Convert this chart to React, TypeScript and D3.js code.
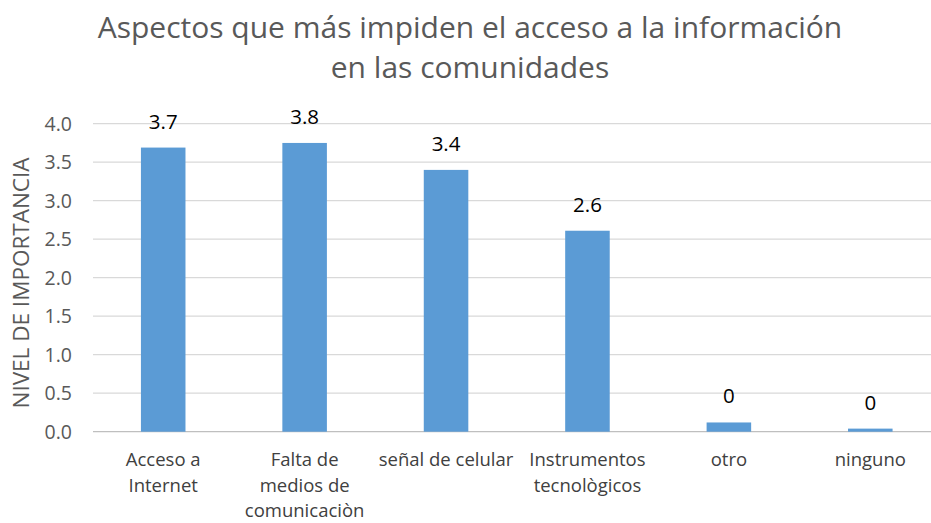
import React from "react";
import * as d3 from "d3";

const categories = [
  ["Acceso a", "Internet"],
  ["Falta de", "medios de", "comunicaciòn"],
  ["señal de celular"],
  ["Instrumentos", "tecnològicos"],
  ["otro"],
  ["ninguno"],
];
const values = [3.69, 3.75, 3.4, 2.61, 0.12, 0.04];
const valueLabels = ["3.7", "3.8", "3.4", "2.6", "0", "0"];
const yTicks = [0, 0.5, 1, 1.5, 2, 2.5, 3, 3.5, 4];
const titleLines = ["Aspectos que más impiden el acceso a la información", "en las comunidades"];
const yTitle = "NIVEL DE IMPORTANCIA";

const W = 931;
const H = 523;
const FONT = "'Open Sans', sans-serif";

export default function App() {
  const x = d3
    .scaleBand<number>()
    .domain(d3.range(values.length))
    .range([92.5, 941])
    .paddingInner(0.685)
    .paddingOuter(0.3425);
  const y = d3.scaleLinear().domain([0, 4]).range([431.7, 123.7]);
  return (
    <svg
      width={W}
      height={H}
      style={{ position: "absolute", left: 0, top: 0, background: "#fff" }}
      fontFamily={FONT}
    >
      {titleLines.map((t, i) => (
        <text key={i} x={470} y={38 + i * 40} textAnchor="middle" fontSize={30} fill="#595959">
          {t}
        </text>
      ))}
      <text
        transform={`translate(29,${283}) rotate(-90)`}
        textAnchor="middle"
        fontSize={22.5}
        fill="#595959"
      >
        {yTitle}
      </text>
      {yTicks.map((t) => (
        <g key={t}>
          <line x1={93} x2={W} y1={y(t)} y2={y(t)} stroke={t === 0 ? "#bfbfbf" : "#d9d9d9"} strokeWidth={1.2} />
          <text x={72} y={y(t)} dy="0.36em" textAnchor="end" fontSize={19.5} fill="#595959">
            {d3.format(".1f")(t)}
          </text>
        </g>
      ))}
      {values.map((v, i) => (
        <g key={i}>
          <rect x={x(i)} y={y(v)} width={x.bandwidth()} height={y(0) - y(v)} fill="#5b9bd5" />
          <text
            x={(x(i) as number) + x.bandwidth() / 2}
            y={y(v) - 19}
            textAnchor="middle"
            fontSize={20.5}
            fill="#000"
          >
            {valueLabels[i]}
          </text>
          {categories[i].map((l, j) => (
            <text
              key={j}
              x={(x(i) as number) + x.bandwidth() / 2}
              y={466 + j * 25.5}
              textAnchor="middle"
              fontSize={18.5}
              fill="#404040"
            >
              {l}
            </text>
          ))}
        </g>
      ))}
    </svg>
  );
}
